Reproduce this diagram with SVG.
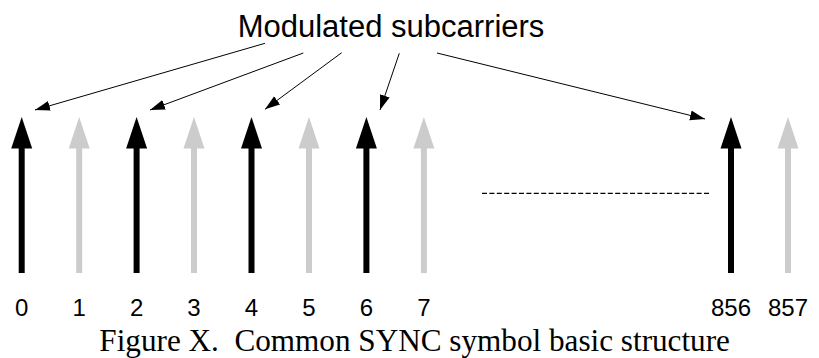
<svg xmlns="http://www.w3.org/2000/svg" width="819" height="358" viewBox="0 0 819 358">
<defs>
<style>
.sf{font-family:"Liberation Sans",Arial,sans-serif;fill:#000}
.num{font-size:24px;text-anchor:middle}
.cap{font-family:"Liberation Serif","Times New Roman",serif;font-size:31.2px;fill:#000;white-space:pre}
.blk line{stroke:#000;stroke-width:6}
.blk polygon{fill:#000}
.gry line{stroke:#cccccc;stroke-width:6}
.gry polygon{fill:#cccccc}
.ptr{stroke:#000;stroke-width:1;fill:none;marker-end:url(#ah)}
</style>
<marker id="ah" markerUnits="userSpaceOnUse" markerWidth="16" markerHeight="11" refX="15" refY="5" orient="auto">
<path d="M0,0 L15,5 L0,10 z" fill="#000"/>
</marker>
</defs>
<rect width="819" height="358" fill="#fff"/>
<text class="sf" x="391" y="37" font-size="31" text-anchor="middle">Modulated subcarriers</text>

<g id="sc0" class="blk"><line x1="21.7" y1="147" x2="21.7" y2="273"/><polygon points="21.7,117 32.2,148.5 11.2,148.5"/><text class="sf num" x="21.7" y="316">0</text></g>
<g id="sc1" class="gry"><line x1="79.2" y1="147" x2="79.2" y2="273"/><polygon points="79.2,117 89.7,148.5 68.7,148.5"/><text class="sf num" x="79.2" y="316">1</text></g>
<g id="sc2" class="blk"><line x1="136.6" y1="147" x2="136.6" y2="273"/><polygon points="136.6,117 147.1,148.5 126.1,148.5"/><text class="sf num" x="136.6" y="316">2</text></g>
<g id="sc3" class="gry"><line x1="194" y1="147" x2="194" y2="273"/><polygon points="194,117 204.5,148.5 183.5,148.5"/><text class="sf num" x="194" y="316">3</text></g>
<g id="sc4" class="blk"><line x1="251.5" y1="147" x2="251.5" y2="273"/><polygon points="251.5,117 262,148.5 241,148.5"/><text class="sf num" x="251.5" y="316">4</text></g>
<g id="sc5" class="gry"><line x1="309" y1="147" x2="309" y2="273"/><polygon points="309,117 319.5,148.5 298.5,148.5"/><text class="sf num" x="309" y="316">5</text></g>
<g id="sc6" class="blk"><line x1="366.4" y1="147" x2="366.4" y2="273"/><polygon points="366.4,117 376.9,148.5 355.9,148.5"/><text class="sf num" x="366.4" y="316">6</text></g>
<g id="sc7" class="gry"><line x1="423.9" y1="147" x2="423.9" y2="273"/><polygon points="423.9,117 434.4,148.5 413.4,148.5"/><text class="sf num" x="423.9" y="316">7</text></g>
<g id="sc856" class="blk"><line x1="731" y1="147" x2="731" y2="273"/><polygon points="731,117 741.5,148.5 720.5,148.5"/><text class="sf num" x="731" y="316">856</text></g>
<g id="sc857" class="gry"><line x1="788" y1="147" x2="788" y2="273"/><polygon points="788,117 798.5,148.5 777.5,148.5"/><text class="sf num" x="788" y="316">857</text></g>

<g id="ellipsis"><line x1="482" y1="193.3" x2="710" y2="193.3" stroke="#000" stroke-width="1.3" stroke-dasharray="5 2.4"/></g>

<g id="connectors">
<line class="ptr" x1="265" y1="43.3" x2="35" y2="110"/>
<line class="ptr" x1="303.3" y1="53" x2="150" y2="110"/>
<line class="ptr" x1="341.7" y1="52.7" x2="265" y2="109.3"/>
<line class="ptr" x1="399.3" y1="53.3" x2="380" y2="110"/>
<line class="ptr" x1="437" y1="53" x2="705" y2="119"/>
</g>

<text class="cap" x="99.3" y="351">Figure X.  Common SYNC symbol basic structure</text>
</svg>
